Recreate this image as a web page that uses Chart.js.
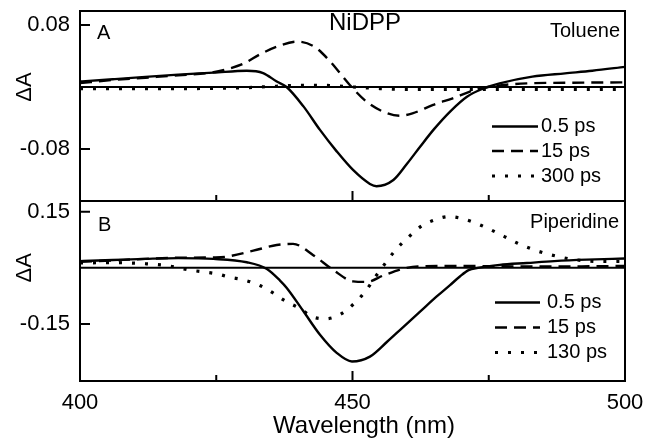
<!DOCTYPE html>
<html>
<head>
<meta charset="utf-8">
<script src="https://cdn.jsdelivr.net/npm/chart.js@4.4.1/dist/chart.umd.min.js"></script>
<style>
    body { margin: 0; background: #fff; }
    #wrap { position: relative; width: 645px; height: 447px; }
    #wrap canvas { position: absolute; left: 0; top: 0; }
</style>
</head>
<body>
<div id="wrap">
    <canvas id="chartA" width="645" height="447"></canvas>
    <canvas id="chartB" width="645" height="447"></canvas>
</div>
<script>
const FONT = '"Liberation Sans", Arial, Helvetica, sans-serif';

// Panel A - toluene (wavelength in nm, delta A)
const tolWl05 = [400, 406, 412, 418, 424.5, 430.6, 433.6, 436.1, 437.9, 441, 444, 447.1, 450.1, 453.2, 454.4, 457.5, 460, 462.4, 465, 468, 471, 474, 477, 483, 489, 494, 500];
const tolDa05 = [0.007, 0.010, 0.013, 0.016, 0.0185, 0.021, 0.018, 0.007, 0, -0.025, -0.055, -0.083, -0.107, -0.125, -0.128, -0.120, -0.099, -0.077, -0.054, -0.031, -0.0125, -0.002, 0.0047, 0.0133, 0.0176, 0.021, 0.026];
const tolWl15 = [400, 406, 412, 418, 424.5, 427, 430, 433, 436.1, 439.8, 443, 445.9, 449.5, 452.6, 455.7, 458.7, 461, 464.8, 468.4, 472.8, 477, 482, 490, 500];
const tolDa15 = [0.005, 0.009, 0.012, 0.015, 0.019, 0.023, 0.030, 0.042, 0.052, 0.0585, 0.052, 0.033, 0.0026, -0.019, -0.032, -0.037, -0.034, -0.023, -0.0146, -0.003, 0.002, 0.0047, 0.0055, 0.006];
const tolWl300 = [400, 410, 420, 430, 436, 440, 445, 450, 455, 460, 470, 480, 490, 500];
const tolDa300 = [-0.002, -0.002, -0.002, -0.001, 0.001, 0.002, 0.002, 0.0, -0.002, -0.003, -0.003, -0.003, -0.003, -0.003];

// Panel B - piperidine
const pipWl05 = [400, 406, 412, 418, 424.5, 430.6, 434.3, 436.7, 437.9, 441, 444, 447.1, 449.9, 453.2, 456.3, 459.3, 462.4, 465.4, 467.9, 469.7, 471.3, 473, 477, 482, 487, 493, 500];
const pipDa05 = [0.018, 0.021, 0.024, 0.026, 0.024, 0.015, -0.003, -0.034, -0.053, -0.116, -0.178, -0.227, -0.25, -0.237, -0.198, -0.158, -0.117, -0.077, -0.046, -0.023, -0.006, 0, 0.008, 0.013, 0.018, 0.022, 0.025];
const pipWl15 = [400, 406, 412, 418, 424.5, 426.9, 431.8, 436.1, 439.1, 442.8, 446.5, 450.1, 452.6, 455.7, 459.3, 462, 470, 480, 490, 500];
const pipDa15 = [0.016, 0.020, 0.024, 0.027, 0.028, 0.030, 0.046, 0.061, 0.064, 0.034, -0.006, -0.036, -0.0375, -0.020, -0.002, 0.004, 0.005, 0.004, 0.004, 0.005];
const pipWl130 = [400, 406, 412, 416, 420.2, 425.1, 427.5, 430, 433, 435.2, 437.6, 440.4, 442.5, 445, 447.7, 450.1, 452.3, 454.1, 455.9, 457.8, 460.2, 462.7, 465.1, 467.6, 470, 472.7, 475.2, 477.7, 480.1, 482.6, 485.3, 487.8, 490.2, 492.7, 495.4, 500];
const pipDa130 = [0.013, 0.014, 0.011, 0.006, -0.006, -0.016, -0.025, -0.032, -0.047, -0.065, -0.088, -0.109, -0.130, -0.136, -0.125, -0.098, -0.064, -0.026, 0.010, 0.046, 0.081, 0.112, 0.128, 0.137, 0.132, 0.119, 0.103, 0.085, 0.067, 0.052, 0.039, 0.030, 0.023, 0.019, 0.017, 0.017];

const tolLabels = ['0.5 ps', '15 ps', '300 ps'];
const pipLabels = ['0.5 ps', '15 ps', '130 ps'];
const xTickLabels = [400, 450, 500];
const xMinorTicks = [425, 475];
const tolTicks = [-0.08, 0.08];
const pipTicks = [-0.15, 0.15];

// line styles: solid, dashed, dotted
const styles = [
    { borderDash: [], borderWidth: 2.4 },
    { borderDash: [12, 7], borderWidth: 2.4 },
    { borderDash: [3, 10], borderWidth: 3.2 }
];

function pts(xs, ys) {
    return xs.map((x, i) => ({ x: x, y: ys[i] }));
}

function makeDatasets(labels, series) {
    return series.map((s, i) => ({
        label: labels[i],
        data: pts(s[0], s[1]),
        borderColor: '#000',
        borderWidth: styles[i].borderWidth,
        borderDash: styles[i].borderDash,
        borderCapStyle: 'butt',
        pointRadius: 0,
        cubicInterpolationMode: 'monotone',
        fill: false
    }));
}

// zero line, frame, inward ticks, texts, legend
const deco = {
    id: 'deco',
    beforeDatasetsDraw(chart) {
        const ctx = chart.ctx, a = chart.chartArea;
        const y0 = chart.scales.y.getPixelForValue(0);
        ctx.save();
        ctx.strokeStyle = '#000';
        ctx.lineWidth = 2;
        ctx.beginPath();
        ctx.moveTo(a.left, y0);
        ctx.lineTo(a.right, y0);
        ctx.stroke();
        ctx.restore();
    },
    afterDraw(chart, args, o) {
        const ctx = chart.ctx, a = chart.chartArea;
        const xs = chart.scales.x, ys = chart.scales.y;
        ctx.save();
        ctx.strokeStyle = '#000';
        ctx.fillStyle = '#000';
        ctx.lineWidth = 2;
        ctx.setLineDash([]);
        ctx.strokeRect(a.left, a.top, a.right - a.left, a.bottom - a.top);

        ctx.beginPath();
        xTickLabels.forEach(v => {
            const px = xs.getPixelForValue(v);
            ctx.moveTo(px, a.bottom);
            ctx.lineTo(px, a.bottom - 10);
        });
        xMinorTicks.forEach(v => {
            const px = xs.getPixelForValue(v);
            ctx.moveTo(px, a.bottom);
            ctx.lineTo(px, a.bottom - 6);
        });
        o.yTicks.forEach(v => {
            const py = ys.getPixelForValue(v);
            ctx.moveTo(a.left, py);
            ctx.lineTo(a.left + 10, py);
        });
        ctx.stroke();

        ctx.textBaseline = 'alphabetic';
        o.texts.forEach(t => {
            ctx.font = t.size + 'px ' + FONT;
            ctx.textAlign = t.align;
            ctx.fillText(t.text, t.x, t.y);
        });

        // y title
        ctx.save();
        ctx.translate(25, ys.getPixelForValue(0));
        ctx.rotate(-Math.PI / 2);
        ctx.font = '22px ' + FONT;
        ctx.textAlign = 'center';
        ctx.textBaseline = 'middle';
        ctx.fillText('ΔA', 0, 0);
        ctx.restore();

        // legend
        const lg = o.legend;
        chart.data.datasets.forEach((ds, i) => {
            const y = lg.rows[i];
            ctx.lineWidth = ds.borderWidth;
            ctx.setLineDash(ds.borderDash);
            ctx.beginPath();
            ctx.moveTo(lg.x0, y);
            ctx.lineTo(lg.x1, y);
            ctx.stroke();
            ctx.setLineDash([]);
            ctx.font = '20px ' + FONT;
            ctx.textAlign = 'left';
            ctx.textBaseline = 'middle';
            ctx.fillText(ds.label, lg.tx, y);
        });
        ctx.restore();
    }
};

function yScale(min, max, ticks) {
    return {
        min: min,
        max: max,
        afterFit(s) { s.width = 80; s.paddingTop = 0; s.paddingBottom = 0; },
        afterBuildTicks(s) { s.ticks = ticks.map(v => ({ value: v })); },
        grid: { display: false, drawTicks: false },
        border: { display: false },
        ticks: {
            padding: 10,
            color: '#000',
            font: { family: FONT, size: 22 },
            callback: v => v.toFixed(2)
        }
    };
}

const chartA = new Chart(document.getElementById('chartA'), {
    type: 'line',
    data: {
        datasets: makeDatasets(tolLabels, [[tolWl05, tolDa05], [tolWl15, tolDa15], [tolWl300, tolDa300]])
    },
    options: {
        responsive: false,
        animation: false,
        devicePixelRatio: 1,
        layout: { padding: { left: 0, right: 20, top: 11, bottom: 246 } },
        plugins: {
            legend: { display: false },
            title: { display: false },
            tooltip: { enabled: false },
            deco: {
                yTicks: tolTicks,
                texts: [
                    { text: 'NiDPP', x: 365, y: 30, size: 24, align: 'center' },
                    { text: 'A', x: 97, y: 39, size: 20, align: 'left' },
                    { text: 'Toluene', x: 620, y: 37, size: 20, align: 'right' }
                ],
                legend: { x0: 492, x1: 538, tx: 541, rows: [126.5, 151, 176] }
            }
        },
        scales: {
            x: { type: 'linear', min: 400, max: 500, display: false },
            y: yScale(-0.147, 0.098, tolTicks)
        }
    },
    plugins: [deco]
});

const chartB = new Chart(document.getElementById('chartB'), {
    type: 'line',
    data: {
        datasets: makeDatasets(pipLabels, [[pipWl05, pipDa05], [pipWl15, pipDa15], [pipWl130, pipDa130]])
    },
    options: {
        responsive: false,
        animation: false,
        devicePixelRatio: 1,
        layout: { padding: { left: 0, right: 20, top: 201, bottom: 0 } },
        plugins: {
            legend: { display: false },
            title: { display: false },
            tooltip: { enabled: false },
            deco: {
                yTicks: pipTicks,
                texts: [
                    { text: 'B', x: 98, y: 231, size: 20, align: 'left' },
                    { text: 'Piperidine', x: 619, y: 228, size: 20, align: 'right' },
                    { text: 'Wavelength (nm)', x: 364, y: 433, size: 24, align: 'center' }
                ],
                legend: { x0: 495, x1: 540, tx: 547, rows: [302.5, 327.5, 352.5] }
            }
        },
        scales: {
            x: {
                type: 'linear',
                min: 400,
                max: 500,
                afterFit(s) { s.height = 66; s.paddingLeft = 0; s.paddingRight = 0; },
                afterBuildTicks(s) { s.ticks = xTickLabels.map(v => ({ value: v })); },
                grid: { display: false, drawTicks: false },
                border: { display: false },
                ticks: {
                    padding: 9,
                    autoSkip: false,
                    maxRotation: 0,
                    color: '#000',
                    font: { family: FONT, size: 22 }
                }
            },
            y: yScale(-0.3022, 0.1786, pipTicks)
        }
    },
    plugins: [deco]
});
</script>
</body>
</html>
